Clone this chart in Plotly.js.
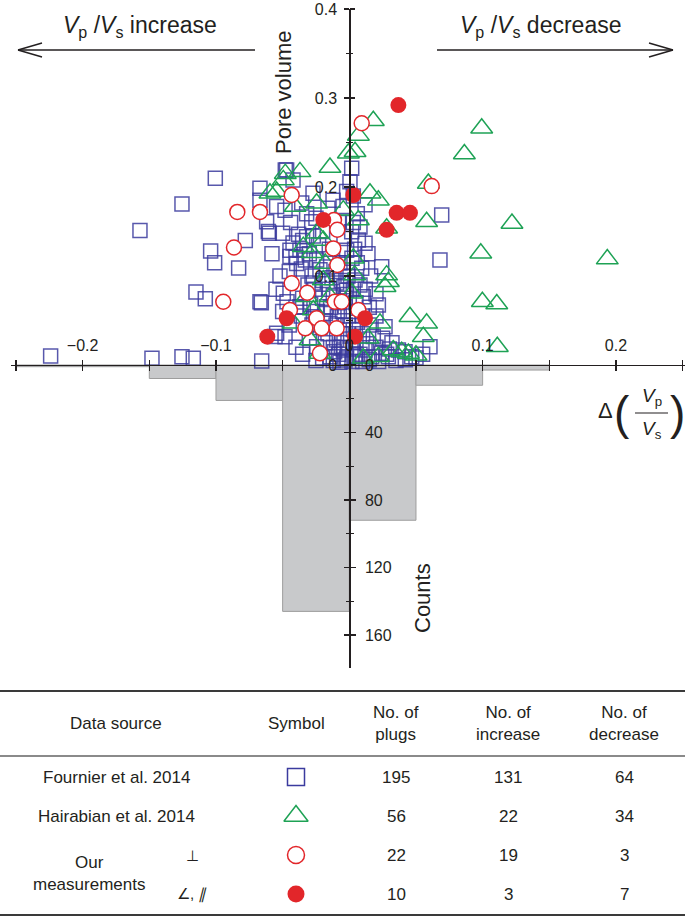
<!DOCTYPE html>
<html><head><meta charset="utf-8">
<script src="https://cdn.plot.ly/plotly-3.0.1.min.js"></script>
<style>html,body{margin:0;padding:0;background:#fff}#chart{width:685px;height:918px}</style>
</head><body><div id="chart"></div>
<script>
// ---------------- DATA ----------------
// Fournier et al. 2014 (open squares): Δ(Vp/Vs), pore volume
const fournierDx = [
 -0.1005,-0.1255,-0.157,-0.104,-0.101,-0.083,-0.115,-0.108,-0.224,-0.148,-0.1255,-0.117,-0.067,-0.067,-0.0545,-0.062,-0.0607,-0.06,-0.078,-0.067,-0.066,-0.0467,-0.0545,-0.0657,-0.048,-0.0445,-0.0557,
 -0.047,-0.0422,-0.0482,-0.0357,-0.0272,-0.0122,-0.0047,-0.0282,-0.0422,-0.0445,-0.037,-0.032,-0.0395,-0.0245,-0.022,-0.007,-0.002,-0.027,-0.0095,-0.002,-0.017,-0.037,-0.0032,-0.027,-0.0145,-0.0095,-0.0045,-0.0145,-0.0032,-0.0245,-0.0482,-0.0495,
 -0.038,-0.035,-0.040,-0.033,-0.030,-0.036,-0.028,-0.020,-0.015,-0.012,-0.008,-0.005,-0.018,-0.022,-0.010,-0.006,-0.030,-0.018,-0.012,-0.008,-0.020,-0.004,-0.003,-0.006,-0.010,-0.015,-0.020,-0.025,-0.008,-0.004,-0.012,-0.025,-0.035,-0.040,-0.045,-0.050,-0.055,-0.052,-0.045,-0.058,-0.050,-0.044,-0.032,-0.016,-0.002,-0.006,-0.002,-0.009,-0.014,-0.020,-0.026,-0.031,-0.035,-0.040,-0.028,-0.036,-0.003,-0.001,-0.005,
 -0.007,-0.011,-0.016,-0.024,-0.029,-0.013,-0.017,-0.023,-0.027,-0.004,-0.001,-0.001,
 0.0018,0.0005,0.0118,0.0693,0.0018,0.0118,0.0068,0.068,0.0243,0.0093,0.0043,0.0105,0.0218,0.0268,0.0605,0.0118,0.0243,0.0368,0.0418,0.0043,0.0168,0.0293,0.0468,
 0.003,0.006,0.003,0.008,0.004,0.002,0.006,0.014,0.016,0.008,0.003,0.012,0.020,0.005,0.015,0.003,0.010,0.020,0.006,0.015,0.003,0.010,0.018,0.025,0.005,0.013,0.020,0.030,0.003,0.008,0.015,0.022,0.035,0.042,0.050,0.055,0.028,0.010,0.002,0.005,0.032
];
const fournierPore = [
 0.2097,0.181,0.151,0.128,0.115,0.109,0.082,0.0745,0.010,0.0075,0.0093,0.0075,0.1985,0.185,0.178,0.161,0.150,0.148,0.140,0.071,0.070,0.071,0.0356,0.0045,0.219,0.122,0.032,
 0.219,0.208,0.174,0.182,0.193,0.185,0.178,0.161,0.137,0.129,0.129,0.144,0.114,0.118,0.107,0.115,0.129,0.092,0.092,0.084,0.0655,0.0655,0.0655,0.0543,0.0469,0.0281,0.0169,0.0093,0.0056,0.0206,0.0318,0.0806,
 0.147,0.140,0.121,0.118,0.125,0.108,0.100,0.095,0.085,0.078,0.070,0.060,0.058,0.042,0.045,0.035,0.030,0.025,0.020,0.012,0.008,0.025,0.045,0.095,0.105,0.130,0.150,0.165,0.160,0.142,0.005,0.005,0.012,0.020,0.045,0.060,0.085,0.100,0.105,0.125,0.148,0.160,0.170,0.176,0.195,0.020,0.008,0.055,0.065,0.075,0.085,0.090,0.075,0.065,0.045,0.055,0.075,0.100,0.115,
 0.003,0.015,0.035,0.060,0.068,0.098,0.110,0.135,0.145,0.088,0.055,0.035,
 0.221,0.206,0.180,0.1685,0.1498,0.1367,0.1404,0.118,0.1104,0.1087,0.0955,0.0767,0.0674,0.043,0.0206,0.0169,0.0131,0.0169,0.015,0.0093,0.0093,0.0093,0.0093,
 0.190,0.170,0.160,0.155,0.130,0.120,0.115,0.125,0.100,0.090,0.085,0.085,0.080,0.070,0.065,0.060,0.055,0.055,0.048,0.045,0.040,0.035,0.032,0.030,0.028,0.024,0.020,0.018,0.018,0.012,0.006,0.004,0.005,0.006,0.008,0.012,0.012,0.004,0.004,0.010,0.025
];
// Hairabian et al. 2014 (open triangles)
const hairabianDx = [
 0.0993,0.0863,0.122,0.0986,0.1935,0.0998,0.1106,0.111,0.018,0.0068,0.0043,0.0593,0.0155,0.0218,0.0068,0.028,0.058,0.028,0.0293,0.0268,0.004,0.0455,0.058,0.0555,0.023,0.002,0.033,0.0393,0.0443,0.0218,0.0105,0.050,0.014,0.003,
 -0.048,-0.037,-0.0145,-0.0545,-0.0595,-0.0407,-0.0245,-0.0245,-0.0345,-0.028,-0.018,-0.0195,-0.032,-0.0145,-0.027,-0.042,-0.0295,-0.022,-0.0007,-0.0495,-0.0045,-0.0195
];
const hairabianPore = [
 0.266,0.237,0.159,0.1255,0.119,0.0711,0.0685,0.0206,0.2745,0.258,0.2397,0.204,0.193,0.185,0.163,0.1536,0.161,0.101,0.0936,0.088,0.101,0.0543,0.0468,0.0318,0.0468,0.0806,0.0169,0.015,0.013,0.0093,0.0075,0.011,0.030,0.120,
 0.215,0.217,0.222,0.195,0.193,0.178,0.1817,0.148,0.133,0.126,0.114,0.0955,0.0767,0.0767,0.0618,0.0468,0.028,0.013,0.238,0.208,0.174,0.140
];
// Our measurements, perpendicular (open circles)
const perpDx   = [0.0093,0.0618,0.0068,-0.084,-0.067,-0.0865,-0.0945,-0.0432,-0.0115,-0.009,-0.012,-0.009,-0.0432,-0.0315,-0.0445,-0.0108,-0.0057,-0.0245,-0.033,-0.0207,-0.0095,-0.022];
const perpPore = [0.2716,0.201,0.0618,0.172,0.172,0.132,0.0711,0.191,0.163,0.152,0.131,0.1124,0.0918,0.0812,0.0618,0.0711,0.0711,0.0525,0.0412,0.0412,0.0412,0.0131];
// Our measurements, oblique / parallel (filled circles)
const oblDx   = [0.0368,0.003,0.0355,0.0455,0.028,0.0118,0.0043,-0.0195,-0.047,-0.0615];
const oblPore = [0.292,0.191,0.171,0.171,0.152,0.0525,0.0318,0.163,0.0525,0.0318];
// Histogram of Δ(Vp/Vs), bin width 0.05
const binCenters = [-0.225,-0.175,-0.125,-0.075,-0.025,0.025,0.075,0.125];
const binCounts  = [1,1,8,21,146,92,12,3];
// Tick labels
const xTickVals = [-0.2,-0.1,0,0.1,0.2];
const xTickText = ['\u22120.2','\u22120.1','0','0.1','0.2'];
const xMinorVals = [-0.25,-0.15,-0.05,0.05,0.15,0.25];
const poreTickVals = [0,0.1,0.2,0.3,0.4];
const poreTickText = ['0','0.1','0.2','0.3','0.4'];
const poreMinorVals = [0.05,0.15,0.25,0.35];
const countTickVals = [0,40,80,120,160];
const countTickText = ['0','40','80','120','160'];
const countMinorVals = [20,60,100,140,180];
// Table
const tableHeaders = ['Data source','Symbol','No. of<br>plugs','No. of<br>increase','No. of<br>decrease'];
const tableSources = ['Fournier et al. 2014','Hairabian et al. 2014','Our<br>measurements'];
const tableOrient  = ['','','\u22a5','\u2220, <i>\u2225</i>'];
const tablePlugs   = [195,56,22,10];
const tableIncrease= [131,22,19,3];
const tableDecrease= [64,34,3,7];

// ---------------- GEOMETRY ----------------
const W=685,H=918;
const plotL=11, plotR=685, plotT=9, plotB=668;
const x0px=349.3, y0px=365;
const pxPerX=1333.3, pxPerPore=890, pxPerCount=67.5/40;
const fx = p => p/W, fy = p => 1-p/H;
const xRange=[(plotL-x0px)/pxPerX,(plotR-x0px)/pxPerX];
const poreRange=[-(plotB-y0px)/pxPerPore,(y0px-plotT)/pxPerPore];
const countRange=[(plotB-y0px)/pxPerCount,-(y0px-plotT)/pxPerCount];
const dom=[fy(plotB),fy(plotT)];
const INK='#231f20';
const FONT='Liberation Sans, Arial, sans-serif';
const tf={family:FONT,size:16,color:INK};

const blue='#3b3b9e', green='#1ea255', red='#e2262a';

const traces=[
 {type:'bar',x:binCenters,y:binCounts,width:0.05,xaxis:'x',yaxis:'y',
  marker:{color:'#c8c9cb',line:{color:'#9d9d9d',width:1}},hoverinfo:'skip'},
 {type:'scatter',mode:'markers',x:fournierDx,y:fournierPore,xaxis:'x',yaxis:'y2',
  marker:{symbol:'square-open',size:14,color:blue,opacity:0.85,line:{width:1.5,color:blue}}},
 {type:'scatter',mode:'markers',x:hairabianDx,y:hairabianPore,xaxis:'x',yaxis:'y2',
  marker:{symbol:'triangle-up-open',size:19,color:green,line:{width:1.5,color:green}}},
 {type:'scatter',mode:'markers',x:perpDx,y:perpPore,xaxis:'x',yaxis:'y2',
  marker:{symbol:'circle',size:15,color:'#ffffff',line:{width:1.5,color:red}}},
 {type:'scatter',mode:'markers',x:oblDx,y:oblPore,xaxis:'x',yaxis:'y2',
  marker:{symbol:'circle',size:16,color:red,line:{width:0}}},
 {type:'scatter',mode:'markers',x:[null],y:[null],xaxis:'x3',yaxis:'y3',hoverinfo:'skip'},
 {type:'scatter',mode:'markers',x:[null],y:[null],xaxis:'x',yaxis:'y4',hoverinfo:'skip'}
];

// table symbols
const rowY = i => 777 + 39*i;
const symStyles=[
 {symbol:'square-open',size:17,color:blue,line:{width:1.5,color:blue}},
 {symbol:'triangle-up-open',size:21,color:green,line:{width:1.5,color:green}},
 {symbol:'circle',size:17,color:'#fff',line:{width:1.5,color:red}},
 {symbol:'circle',size:17,color:red,line:{width:0}}
];
symStyles.forEach((m,i)=>traces.push({type:'scatter',mode:'markers',x:[296],y:[rowY(i)],xaxis:'x4',yaxis:'y5',marker:m,hoverinfo:'skip'}));

const minorX={tickmode:'array',tickvals:xMinorVals,ticks:'outside',ticklen:5,tickcolor:INK,tickwidth:1.3};
const minorC={tickmode:'array',tickvals:countMinorVals,ticks:'outside',ticklen:3,tickcolor:INK,tickwidth:1.2};
const minorP={tickmode:'array',tickvals:poreMinorVals,ticks:'outside',ticklen:3,tickcolor:INK,tickwidth:1.2};
const common={showgrid:false,zeroline:false,tickcolor:INK,tickwidth:1.3,linecolor:INK,linewidth:1.4,tickfont:tf,fixedrange:true};
const layout={
 width:W,height:H,margin:{l:0,r:0,t:0,b:0,pad:0},showlegend:false,
 paper_bgcolor:'#fff',plot_bgcolor:'rgba(0,0,0,0)',font:{family:FONT,color:INK},
 xaxis:Object.assign({},common,{domain:[fx(plotL),fx(plotR)],range:xRange,anchor:'free',position:fy(y0px),side:'top',
   showline:true,ticks:'outside',ticklen:5,tickmode:'array',tickvals:xTickVals,ticktext:xTickText,minor:minorX,ticklabelstandoff:3}),
 xaxis3:Object.assign({},common,{overlaying:'x',range:xRange,anchor:'free',position:fy(y0px),side:'bottom',
   showline:false,ticks:'outside',ticklen:5,tickmode:'array',tickvals:xTickVals,minor:minorX,showticklabels:false}),
 yaxis:Object.assign({},common,{domain:dom,range:countRange,anchor:'free',position:fx(x0px),side:'right',
   showline:true,ticks:'outside',ticklen:5,tickmode:'array',tickvals:countTickVals,ticktext:countTickText,
   minor:minorC,ticklabelstandoff:6}),
 yaxis3:Object.assign({},common,{overlaying:'y',range:countRange,anchor:'free',position:fx(x0px),side:'left',
   showline:false,ticks:'outside',ticklen:5,tickmode:'array',tickvals:countTickVals,showticklabels:false,minor:minorC}),
 yaxis2:Object.assign({},common,{overlaying:'y',range:poreRange,anchor:'free',position:fx(x0px),side:'left',
   showline:false,ticks:'outside',ticklen:5,tickmode:'array',tickvals:poreTickVals,ticktext:poreTickText,
   minor:minorP,ticklabelstandoff:4}),
 yaxis4:Object.assign({},common,{overlaying:'y',range:poreRange,anchor:'free',position:fx(x0px),side:'right',
   showline:false,ticks:'outside',ticklen:5,tickmode:'array',tickvals:poreTickVals,showticklabels:false,minor:minorP}),
 xaxis4:{domain:[0,1],range:[0,W],visible:false,fixedrange:true,anchor:'y5'},
 yaxis5:{domain:[0,fy(680)],range:[H,680],visible:false,fixedrange:true,anchor:'x4'},
 annotations:[],shapes:[]
};

const ann=(px,py,text,size,extra)=>layout.annotations.push(Object.assign({xref:'paper',yref:'paper',x:fx(px),y:fy(py),
  xanchor:'center',yanchor:'middle',text:text,showarrow:false,font:{family:FONT,size:size,color:INK}},extra||{}));
const line=(x1,y1,x2,y2,color,w)=>layout.shapes.push({type:'line',xref:'paper',yref:'paper',x0:fx(x1),y0:fy(y1),x1:fx(x2),y1:fy(y2),line:{color:color||INK,width:w||1.4}});

// headline arrows
ann(140,26,'<i>V</i><sub>p</sub> /<i>V</i><sub>s</sub> increase',23);
ann(540,26,'<i>V</i><sub>p</sub> /<i>V</i><sub>s</sub> decrease',23);
line(18,50,255,50); line(18,50,42,43); line(18,50,42,57);
line(437,50,673,50); line(673,50,649,43); line(673,50,649,57);
// axis titles
ann(283,92,'Pore volume',22,{textangle:-90});
ann(422,598,'Counts',22,{textangle:-90});
ann(605,411,'\u0394',22);
ann(622,413,'(',46);
ann(677,413,')',46);
ann(652,397,'<i>V</i><sub>p</sub>',19);
ann(652,430,'<i>V</i><sub>s</sub>',19);
line(635,413,668,413,INK,1.2);

// table
const colX=[116,296,396,508,624];
line(0,691,W,691,'#3a3a3a',2);
line(0,756,W,756,'#8a8a8a',2);
line(0,915,W,915,'#3a3a3a',2);
tableHeaders.forEach((h,j)=>ann(colX[j],723,h,17));
ann(colX[0],rowY(0),tableSources[0],17);
ann(colX[0],rowY(1),tableSources[1],17);
ann(89,873,tableSources[2],17);
tableOrient.forEach((t,i)=>{ if(t) ann(192,rowY(i),t,15); });
for(let i=0;i<4;i++){
  ann(colX[2],rowY(i),String(tablePlugs[i]),17);
  ann(colX[3],rowY(i),String(tableIncrease[i]),17);
  ann(colX[4],rowY(i),String(tableDecrease[i]),17);
}

Plotly.newPlot('chart',traces,layout,{staticPlot:true,displayModeBar:false});
</script></body></html>
